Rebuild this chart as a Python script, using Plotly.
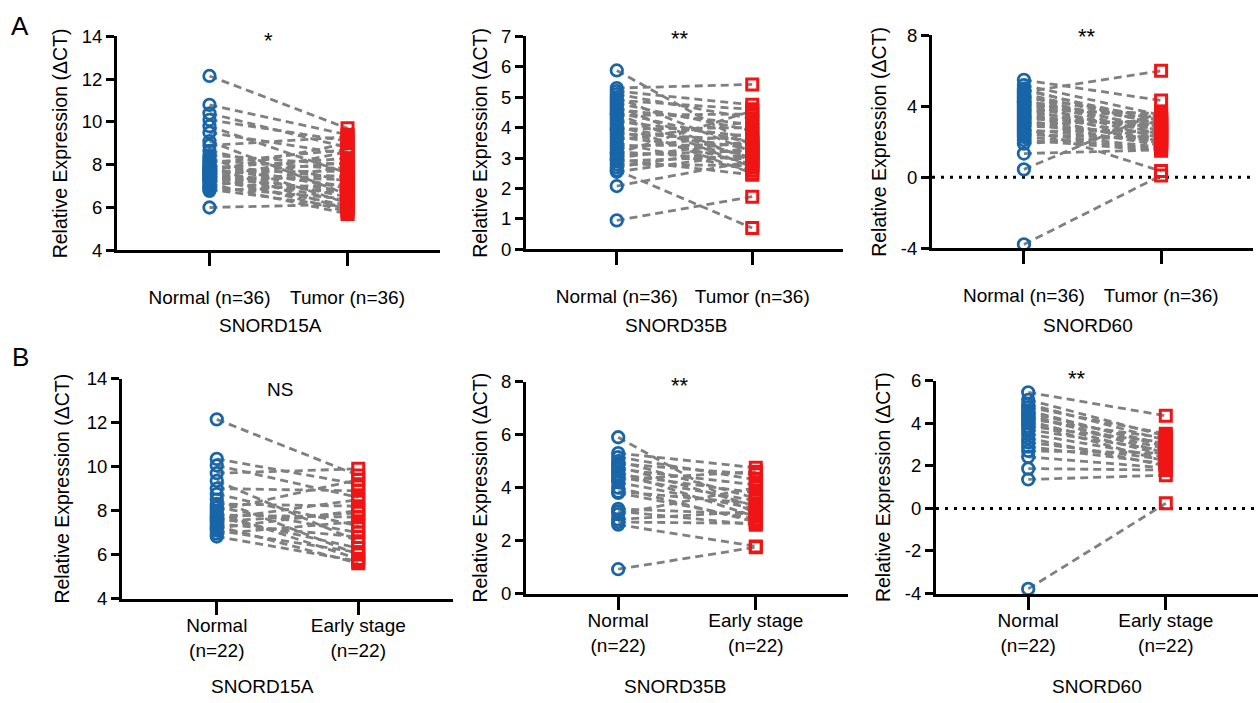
import plotly.graph_objects as go

# ---------------- data ----------------
genes = ["SNORD15A", "SNORD35B", "SNORD60"]
signif_A = ["*", "**", "**"]
signif_B = ["NS", "**", "**"]
cats_A = ["Normal (n=36)", "Tumor (n=36)"]
cats_B = ["Normal<br>(n=22)", "Early stage<br>(n=22)"]

a1_normal = [12.15, 10.8, 10.4, 10.1, 9.8, 9.5, 9.1, 8.9, 8.65, 8.45, 8.3, 8.2, 8.1, 8.0, 7.95, 7.9,
             7.85, 7.8, 7.75, 7.7, 7.65, 7.6, 7.55, 7.5, 7.45, 7.4, 7.35, 7.3, 7.25, 7.2, 7.1, 7.0,
             6.95, 6.85, 6.78, 6.0]
a1_tumor = [9.7, 9.4, 8.8, 9.1, 7.6, 8.5, 6.6, 9.3, 7.2, 8.0, 6.2, 7.8, 8.7, 6.9, 7.4, 5.9,
            8.3, 7.0, 6.5, 9.0, 7.7, 6.3, 8.1, 5.8, 7.3, 6.8, 8.6, 6.1, 7.5, 6.7, 5.7, 7.9,
            6.4, 6.0, 7.1, 6.15]

a2_normal = [5.88, 5.3, 5.2, 5.1, 5.0, 4.9, 4.8, 4.7, 4.6, 4.5, 4.45, 4.4, 4.3, 4.2, 4.1, 4.0,
             3.95, 3.9, 3.8, 3.7, 3.6, 3.5, 3.4, 3.3, 3.2, 3.15, 3.1, 3.0, 2.95, 2.9, 2.8, 2.7,
             2.6, 2.55, 2.08, 0.95]
a2_tumor = [3.4, 5.42, 4.75, 4.3, 3.2, 4.6, 3.9, 2.9, 4.1, 3.5, 2.7, 4.45, 3.0, 3.7, 2.5, 3.3,
            4.0, 2.8, 3.6, 3.1, 4.2, 2.6, 3.45, 3.8, 2.95, 4.55, 3.25, 3.55, 2.45, 3.05, 2.75, 3.35,
            0.70, 3.15, 2.9, 1.73]

a3_normal = [5.49, 5.2, 5.0, 4.9, 4.8, 4.7, 4.6, 4.5, 4.4, 4.3, 4.25, 4.2, 4.1, 4.0, 3.9, 3.8,
             3.7, 3.6, 3.5, 3.4, 3.3, 3.2, 3.1, 3.0, 2.9, 2.8, 2.7, 2.6, 2.5, 2.4, 2.28, 2.1,
             1.9, 1.34, 0.45, -3.78]
a3_tumor = [4.33, 3.5, 2.9, 3.2, 6.0, 3.0, 2.6, 3.4, 2.4, 3.1, 2.8, 2.2, 3.3, 2.5, 2.0, 3.6,
            2.7, 2.3, 1.9, 2.9, 3.0, 2.1, 1.8, 3.2, 2.5, 0.35, 2.0, 2.6, 1.7, 2.2, 1.6, 1.5,
            2.4, 1.55, 3.7, 0.1]

b1_normal = [12.15, 10.35, 10.05, 9.7, 9.35, 9.0, 8.75, 8.5, 8.3, 8.15, 8.0, 7.9, 7.8, 7.7, 7.6,
             7.5, 7.4, 7.3, 7.2, 7.1, 6.95, 6.82]
b1_early = [9.6, 9.2, 8.6, 9.9, 6.6, 8.9, 7.3, 6.0, 8.2, 7.0, 9.4, 5.8, 7.7, 6.3, 8.5, 7.9,
            6.8, 5.6, 8.0, 6.1, 7.5, 5.7]

b2_normal = [5.9, 5.3, 5.15, 5.0, 4.9, 4.8, 4.7, 4.6, 4.5, 4.4, 4.3, 4.2, 4.0, 3.85, 3.8, 3.2,
             3.1, 3.0, 2.8, 2.7, 2.6, 0.92]
b2_early = [3.0, 4.75, 4.3, 3.6, 4.5, 3.3, 4.1, 2.9, 3.8, 3.5, 4.6, 3.2, 2.7, 3.4, 2.8, 3.0,
            2.6, 4.0, 3.1, 2.65, 1.78, 1.75]

b3_normal = [5.45, 5.1, 4.9, 4.75, 4.6, 4.5, 4.4, 4.3, 4.2, 4.1, 4.0, 3.85, 3.7, 3.5, 3.3, 3.1,
             2.9, 2.7, 2.42, 1.87, 1.36, -3.78]
b3_early = [4.35, 3.4, 3.2, 3.5, 2.9, 3.0, 2.6, 2.8, 3.3, 2.5, 2.2, 3.1, 2.7, 2.4, 2.0, 2.3,
            2.1, 2.6, 1.9, 1.8, 1.56, 0.24]

y_ranges = [[4, 14], [0, 7], [-4, 8], [4, 14], [0, 8], [-4, 6]]
y_ticks = [[4, 6, 8, 10, 12, 14], [0, 1, 2, 3, 4, 5, 6, 7], [-4, 0, 4, 8],
           [4, 6, 8, 10, 12, 14], [0, 2, 4, 6, 8], [-4, -2, 0, 2, 4, 6]]

# ---------------- layout geometry ----------------
W, H = 1258, 703
FONT = "Arial, Liberation Sans, sans-serif"
BLUE = "#1866a8"
RED = "#f01414"
GREY = "#808080"

# the captured picture maps figure row y to  8.5 + 0.975*y ; invert that here
V_OFF, V_SCALE = 8.5, 0.975


def fig_px(img_y):
    return (img_y - V_OFF) / V_SCALE


def py(img_y):
    return 1 - fig_px(img_y) / H


# (x_left, x_right, y_top, y_bottom) in target-picture pixels
boxes = [(117, 440, 34, 249), (526, 843, 34, 248), (932, 1253, 33, 247),
         (122, 453, 378, 599), (526, 848, 381, 594), (936, 1258, 380, 594)]

panels = [
    (a1_normal, a1_tumor, cats_A), (a2_normal, a2_tumor, cats_A), (a3_normal, a3_tumor, cats_A),
    (b1_normal, b1_early, cats_B), (b2_normal, b2_early, cats_B), (b3_normal, b3_early, cats_B),
]

fig = go.Figure()
layout = dict(width=W, height=H, margin=dict(l=0, r=0, t=0, b=0),
              paper_bgcolor="white", plot_bgcolor="white", showlegend=False,
              font=dict(family=FONT, color="black"))
annotations = []
shapes = []

for k, ((normal, other, cats), (xl, xr, yt, yb)) in enumerate(zip(panels, boxes)):
    idx = "" if k == 0 else str(k + 1)
    xa, ya = "x" + idx, "y" + idx
    lx, ly = [], []
    for n, t in zip(normal, other):
        lx += [cats[0], cats[1], None]
        ly += [n, t, None]
    fig.add_trace(go.Scatter(x=lx, y=ly, mode="lines", xaxis=xa, yaxis=ya,
                             line=dict(color=GREY, width=2.8, dash="8px,5px"),
                             hoverinfo="skip", cliponaxis=False))
    fig.add_trace(go.Scatter(x=[cats[0]] * len(normal), y=normal, mode="markers",
                             xaxis=xa, yaxis=ya, cliponaxis=False,
                             marker=dict(symbol="circle-open", size=11.5, color=BLUE,
                                         line=dict(width=2.8, color=BLUE))))
    fig.add_trace(go.Scatter(x=[cats[1]] * len(other), y=other, mode="markers",
                             xaxis=xa, yaxis=ya, cliponaxis=False,
                             marker=dict(symbol="square-open", size=11, color=RED,
                                         line=dict(width=3, color=RED))))

    top_row = k < 3
    layout["xaxis" + idx] = dict(
        domain=[xl / W, xr / W], anchor=ya, type="category",
        categoryorder="array", categoryarray=cats, range=[-0.67, 1.67],
        showline=True, linewidth=3, linecolor="black", mirror=False,
        ticks="outside", ticklen=13, tickwidth=3, tickcolor="black",
        tickfont=dict(size=19, family=FONT, color="black"),
        ticklabelstandoff=15 if top_row else -5,
        showgrid=False, zeroline=False, fixedrange=True)
    layout["yaxis" + idx] = dict(
        domain=[py(yb), py(yt)], anchor=xa, range=y_ranges[k],
        tickvals=y_ticks[k], ticktext=[str(v) for v in y_ticks[k]],
        showline=True, linewidth=3, linecolor="black",
        ticks="outside", ticklen=8, tickwidth=3, tickcolor="black",
        tickfont=dict(size=18.5, family=FONT, color="black"),
        showgrid=False, zeroline=False, fixedrange=True)

    # y-axis title
    title_offset = [57, 46, 53, 60, 46, 53][k]
    annotations.append(dict(text="Relative Expression (ΔCT)", textangle=-90,
                            x=(xl - title_offset) / W, y=py((yt + yb) / 2),
                            xref="paper", yref="paper", xanchor="center", yanchor="middle",
                            showarrow=False, font=dict(size=19.5, family=FONT)))
    # gene name
    gene_x = [270, 676, 1088, 262, 675, 1097][k]
    gene_y = 325 if top_row else 687
    annotations.append(dict(text=genes[k % 3], x=gene_x / W, y=py(gene_y),
                            xref="paper", yref="paper", xanchor="center", yanchor="middle",
                            showarrow=False, font=dict(size=19, family=FONT)))
    # significance
    sig = (signif_A if top_row else signif_B)[k % 3]
    sig_x = [268, 680, 1087, 280, 680, 1077][k]
    sig_y = [37, 35, 33, 389, 383, 376][k]
    if sig != "NS":
        sig_y += 1.5
    annotations.append(dict(text=sig, x=sig_x / W, y=py(sig_y),
                            xref="paper", yref="paper", xanchor="center", yanchor="middle",
                            showarrow=False,
                            font=dict(size=22 if sig != "NS" else 19, family=FONT)))
    # dotted zero line
    if y_ranges[k][0] < 0:
        shapes.append(dict(type="line", xref=xa + " domain", yref=ya, x0=0, x1=1, y0=0, y1=0,
                           line=dict(color="black", width=3, dash="3px,6px"), layer="below"))

annotations.append(dict(text="A", x=20 / W, y=py(24), xref="paper", yref="paper",
                        xanchor="center", yanchor="middle", showarrow=False,
                        font=dict(size=26, family=FONT)))
annotations.append(dict(text="B", x=20 / W, y=py(356), xref="paper", yref="paper",
                        xanchor="center", yanchor="middle", showarrow=False,
                        font=dict(size=26, family=FONT)))

layout["annotations"] = annotations
layout["shapes"] = shapes
fig.update_layout(**layout)

page_css = ("var s=document.createElement('style');"
            "s.innerHTML='html,body{margin:0;padding:0;overflow:hidden;width:1258px;height:703px;}"
            " body>div{position:absolute;top:0;left:0;}';"
            "document.head.appendChild(s);")
fig.write_html("out.html", config={"displayModeBar": False}, post_script=page_css)
